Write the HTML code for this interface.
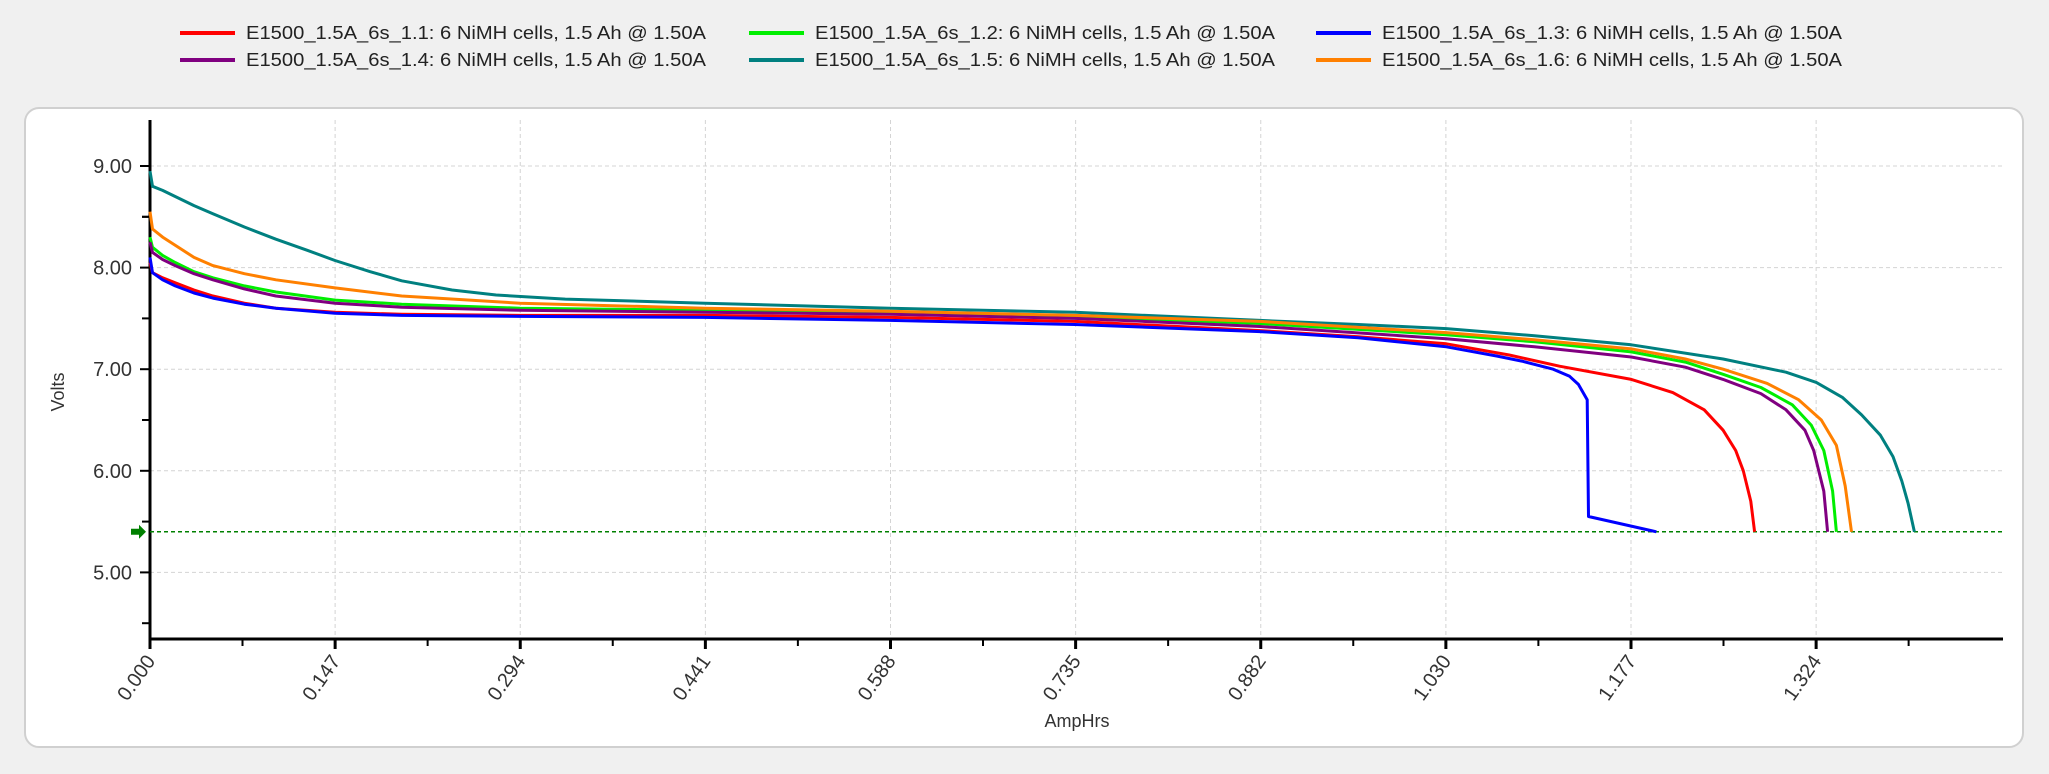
<!DOCTYPE html>
<html><head><meta charset="utf-8"><style>
body{margin:0;width:2049px;height:769px;background:#f0f0f0;font-family:"Liberation Sans",Arial,sans-serif;overflow:hidden}
</style></head><body>
<svg id="c" width="2049" height="769" xmlns="http://www.w3.org/2000/svg">
<rect x="25" y="108" width="1998" height="639" rx="14" fill="#fff" stroke="#d0d0d0" stroke-width="2"/>
<g id="grid"></g><g id="legend"></g><g id="axes"></g><g id="series"></g>
</svg>
<script>
const xTicks=["0.000","0.147","0.294","0.441","0.588","0.735","0.882","1.030","1.177","1.324"];
const yTicks=[5,6,7,8,9];
const names=["E1500_1.5A_6s_1.1: 6 NiMH cells, 1.5 Ah @ 1.50A","E1500_1.5A_6s_1.2: 6 NiMH cells, 1.5 Ah @ 1.50A","E1500_1.5A_6s_1.3: 6 NiMH cells, 1.5 Ah @ 1.50A","E1500_1.5A_6s_1.4: 6 NiMH cells, 1.5 Ah @ 1.50A","E1500_1.5A_6s_1.5: 6 NiMH cells, 1.5 Ah @ 1.50A","E1500_1.5A_6s_1.6: 6 NiMH cells, 1.5 Ah @ 1.50A"];
const colors=["#ff0000","#00ee00","#0000ff","#800080","#008080","#ff8000"];
const cutoff=5.4;
const redX=[0,0.002,0.01,0.02,0.035,0.05,0.075,0.1,0.147,0.2,0.294,0.441,0.588,0.735,0.882,0.96,1.03,1.08,1.12,1.177,1.21,1.235,1.25,1.26,1.266,1.272,1.275];
const redY=[8.05,7.95,7.9,7.85,7.78,7.72,7.65,7.6,7.56,7.54,7.53,7.53,7.51,7.47,7.38,7.32,7.25,7.14,7.03,6.9,6.77,6.6,6.4,6.2,6.0,5.7,5.4];
const greenX=[0,0.002,0.01,0.02,0.035,0.05,0.075,0.1,0.147,0.2,0.294,0.441,0.588,0.735,0.882,1.03,1.1,1.177,1.22,1.25,1.28,1.305,1.32,1.33,1.337,1.34];
const greenY=[8.3,8.2,8.12,8.05,7.96,7.9,7.82,7.76,7.68,7.64,7.6,7.58,7.55,7.52,7.45,7.34,7.27,7.17,7.07,6.95,6.82,6.65,6.45,6.2,5.8,5.4];
const blueX=[0,0.002,0.01,0.02,0.035,0.05,0.075,0.1,0.147,0.2,0.294,0.441,0.588,0.735,0.882,0.96,1.03,1.07,1.09,1.115,1.128,1.135,1.142,1.143,1.197];
const blueY=[8.1,7.95,7.88,7.82,7.75,7.7,7.64,7.6,7.55,7.53,7.52,7.51,7.48,7.44,7.37,7.31,7.22,7.13,7.08,7.0,6.93,6.85,6.7,5.55,5.4];
const purpleX=[0,0.002,0.01,0.02,0.035,0.05,0.075,0.1,0.147,0.2,0.294,0.441,0.588,0.735,0.882,1.03,1.1,1.177,1.22,1.25,1.28,1.3,1.315,1.322,1.33,1.333];
const purpleY=[8.25,8.15,8.08,8.02,7.94,7.88,7.79,7.72,7.65,7.61,7.58,7.56,7.54,7.5,7.42,7.3,7.22,7.12,7.02,6.9,6.76,6.6,6.4,6.2,5.8,5.4];
const tealX=[0,0.002,0.01,0.02,0.035,0.05,0.075,0.1,0.125,0.147,0.175,0.2,0.24,0.275,0.33,0.441,0.588,0.735,0.882,0.96,1.03,1.1,1.177,1.25,1.3,1.324,1.345,1.36,1.375,1.385,1.392,1.397,1.402];
const tealY=[8.95,8.8,8.76,8.7,8.61,8.53,8.4,8.28,8.17,8.07,7.96,7.87,7.78,7.73,7.69,7.65,7.6,7.56,7.48,7.44,7.4,7.33,7.24,7.1,6.97,6.87,6.72,6.55,6.35,6.14,5.9,5.68,5.4];
const orangeX=[0,0.002,0.01,0.02,0.035,0.05,0.075,0.1,0.147,0.2,0.294,0.441,0.588,0.735,0.882,1.03,1.1,1.177,1.22,1.25,1.285,1.31,1.328,1.34,1.347,1.352];
const orangeY=[8.55,8.38,8.3,8.22,8.1,8.02,7.94,7.88,7.8,7.72,7.65,7.6,7.57,7.53,7.47,7.36,7.29,7.2,7.1,7.0,6.86,6.7,6.5,6.25,5.85,5.4];
const seriesX=[redX,greenX,blueX,purpleX,tealX,orangeX];
const seriesY=[redY,greenY,blueY,purpleY,tealY,orangeY];

const NS="http://www.w3.org/2000/svg";
const X0=150,PXA=1258.5,Y9=166,PXV=101.6,RIGHT=2003,TOP=120,BOT=639;
const sx=v=>X0+v*PXA, sy=v=>Y9-(v-9)*PXV;
function mk(tag,attrs,parent){const e=document.createElementNS(NS,tag);for(const k in attrs)e.setAttribute(k,attrs[k]);parent.appendChild(e);return e;}
const grid=document.getElementById('grid'),axes=document.getElementById('axes'),ser=document.getElementById('series'),leg=document.getElementById('legend');
xTicks.forEach((t,i)=>{const x=sx(i*0.1471);
 if(i>0){const g=mk('line',{x1:x,x2:x,y1:TOP,y2:BOT,stroke:'#d4d4d4','stroke-dasharray':'4,3'},grid);
 
 }
 const tk=mk('line',{x1:x,x2:x,y1:BOT,y2:BOT+10,stroke:'#000','stroke-width':3},axes);
 
 
 const mx=sx(i*0.1471+0.0735);
 if(mx<RIGHT){const m=mk('line',{x1:mx,x2:mx,y1:BOT,y2:BOT+7,stroke:'#000','stroke-width':2},axes);
 
 }
 const tx=mk('text',{x:x+6,y:BOT+22,'font-size':20,fill:'#333','text-anchor':'end',transform:`rotate(-55 ${x+6} ${BOT+22})`},axes);tx.textContent=t;
 
 
});
yTicks.forEach(v=>{const y=sy(v);
 const g=mk('line',{x1:X0,x2:RIGHT,y1:y,y2:y,stroke:'#d4d4d4','stroke-dasharray':'4,3'},grid);
 
 
 const tk=mk('line',{x1:X0-10,x2:X0,y1:y,y2:y,stroke:'#000','stroke-width':2},axes);
 
 
 const m=mk('line',{x1:X0-8,x2:X0,y1:sy(v-0.5),y2:sy(v-0.5),stroke:'#000','stroke-width':2},axes);
 
 
 const tx=mk('text',{x:X0-18,y:y+7,'font-size':20,fill:'#333','text-anchor':'end'},axes);tx.textContent=v.toFixed(2);
 
 
});
const m9=mk('line',{x1:X0-8,x2:X0,y1:sy(8.5),y2:sy(8.5),stroke:'#000','stroke-width':2},axes);


const ya=mk('line',{x1:X0,x2:X0,y1:TOP,y2:BOT+1,stroke:'#000','stroke-width':3},axes);


const xa=mk('line',{x1:X0-1,x2:RIGHT,y1:BOT,y2:BOT,stroke:'#000','stroke-width':3},axes);


const yt=mk('text',{x:64,y:392,'font-size':18,fill:'#333','text-anchor':'middle',transform:'rotate(-90 64 392)'},axes);yt.textContent='Volts';


const xt=mk('text',{x:1077,y:727,'font-size':18,fill:'#333','text-anchor':'middle'},axes);xt.textContent='AmpHrs';


const cl=mk('line',{x1:X0,x2:RIGHT,y1:sy(cutoff),y2:sy(cutoff),stroke:'#008000','stroke-dasharray':'4,3','stroke-width':1.5},ser);


const ar=mk('path',{d:`M131 ${sy(cutoff)-3}h8v-4l7 7-7 7v-4h-8z`,fill:'#008000'},ser);


seriesX.forEach((xs,i)=>{const d=xs.map((x,j)=>(j?'L':'M')+sx(x).toFixed(1)+' '+sy(seriesY[i][j]).toFixed(1)).join(' ');
 const p=mk('path',{d:d,fill:'none',stroke:colors[i],'stroke-width':3,'stroke-linejoin':'round'},ser);
 
 
});
const lx=[180,749,1316],lyy=[33,60];
names.forEach((n,i)=>{const x=lx[i%3],y=lyy[Math.floor(i/3)];
 const g=mk('g',{},leg);
 
 
 mk('line',{x1:x,x2:x+55,y1:y,y2:y,stroke:colors[i],'stroke-width':4},g);
 const t=mk('text',{x:x+66,y:y+6,'font-size':18,fill:'#222',textLength:460,lengthAdjust:'spacingAndGlyphs'},g);t.textContent=n;
});
</script>
</body></html>
